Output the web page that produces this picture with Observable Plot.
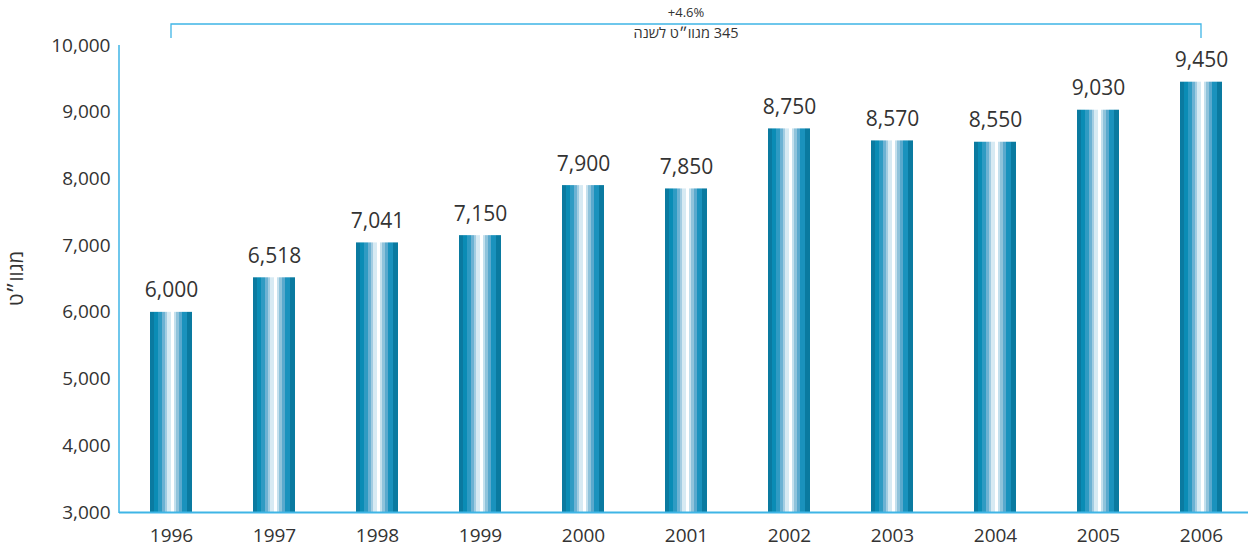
<!DOCTYPE html>
<html>
<head>
<meta charset="utf-8">
<script src="https://cdn.jsdelivr.net/npm/d3@7"></script>
<script src="https://cdn.jsdelivr.net/npm/@observablehq/plot@0.6"></script>
<style>
  html, body { margin: 0; padding: 0; background: #fff; }
  svg { display: block; }
</style>
</head>
<body>
<div id="chart"></div>
<script>
const years = ["1996","1997","1998","1999","2000","2001","2002","2003","2004","2005","2006"];
const values = [6000, 6518, 7041, 7150, 7900, 7850, 8750, 8570, 8550, 9030, 9450];
const yTicks = [3000, 4000, 5000, 6000, 7000, 8000, 9000, 10000];
const growthLabel = "+4.6%";
const annualLabel = "345 מגוו״ט לשנה";
const yTitle = "מגוו״ט";

const stripeColors = ["#0a7aa0","#0a8cb5","#2f9bc3","#6cb2d3","#a3cde2","#d7eaf3","#ffffff","#c4e0ed","#8fc3db","#5aa9cd","#1a92bd","#0a7aa0"];
const stripeStops = [0, 0.1, 0.2, 0.28, 0.35, 0.41, 0.49, 0.56, 0.62, 0.69, 0.77, 0.87, 1];

const data = years.map((year, i) => ({year, value: values[i]}));
const blue = "#3fb5e6";
const font = "'Open Sans', 'Noto Sans', sans-serif";
const fmt = d3.format(",");

const chart = Plot.plot({
  width: 1248,
  height: 549,
  marginLeft: 119,
  marginRight: -6,
  marginTop: 45,
  marginBottom: 37,
  style: {fontFamily: font, color: "#333", background: "#fff", overflow: "visible"},
  x: {domain: years, paddingInner: 0.59, paddingOuter: 0.295, label: null},
  y: {domain: [3000, 10000], label: null},
  marks: [
    Plot.barY(data, {x: "year", y1: 3000, y2: "value", fill: "url(#barGrad)"}),
    Plot.text(data, {x: "year", y: "value", text: d => fmt(d.value), lineAnchor: "bottom", dy: -15, fontSize: 21, fill: "#333"}),
    Plot.ruleY([3000], {stroke: blue, strokeWidth: 2}),
    Plot.axisY({ticks: yTicks, tickSize: 0, tickPadding: 9, fontSize: 19, tickFormat: fmt, label: null}),
    Plot.axisX({tickSize: 0, tickPadding: 16, fontSize: 19, label: null})
  ]
});

document.getElementById("chart").appendChild(chart);

const svg = d3.select(chart);
const defs = svg.insert("defs", ":first-child");
const grad = defs.append("linearGradient").attr("id", "barGrad").attr("x1", 0).attr("x2", 1).attr("y1", 0).attr("y2", 0);
stripeColors.forEach((c, i) => {
  grad.append("stop").attr("offset", stripeStops[i]).attr("stop-color", c);
  grad.append("stop").attr("offset", stripeStops[i + 1]).attr("stop-color", c);
});

const xs = chart.scale("x");
const ys = chart.scale("y");
const bw = xs.bandwidth;
const cx = y => xs.apply(y) + bw / 2;
const x0 = cx(years[0]), x1 = cx(years[years.length - 1]);
const yTop = ys.apply(10000);
const yBot = ys.apply(3000);

// left axis line
svg.append("line").attr("x1", 119).attr("x2", 119).attr("y1", yTop).attr("y2", yBot + 1)
  .attr("stroke", blue).attr("stroke-width", 1.5);

// bracket
const bracketY = yTop - 21;
svg.append("path")
  .attr("d", `M${x0},${bracketY + 14}V${bracketY}H${x1}V${bracketY + 14}`)
  .attr("fill", "none").attr("stroke", blue).attr("stroke-width", 1.3);

const mid = (x0 + x1) / 2;
svg.append("text").attr("x", mid).attr("y", bracketY - 10).attr("text-anchor", "middle")
  .attr("dominant-baseline", "middle").attr("font-size", 13).attr("fill", "#333")
  .attr("font-family", font).text(growthLabel);
svg.append("text").attr("x", mid).attr("y", bracketY + 10).attr("text-anchor", "middle")
  .attr("direction", "rtl").attr("unicode-bidi", "embed")
  .attr("dominant-baseline", "middle").attr("font-size", 14.5).attr("fill", "#333")
  .attr("font-family", font).text(annualLabel);

// y title
svg.append("text").attr("transform", `translate(18,${(yTop + yBot) / 2}) rotate(-90)`)
  .attr("text-anchor", "middle").attr("dominant-baseline", "middle").attr("direction", "rtl")
  .attr("font-size", 20).attr("fill", "#333").attr("font-family", font).text(yTitle);
</script>
</body>
</html>
